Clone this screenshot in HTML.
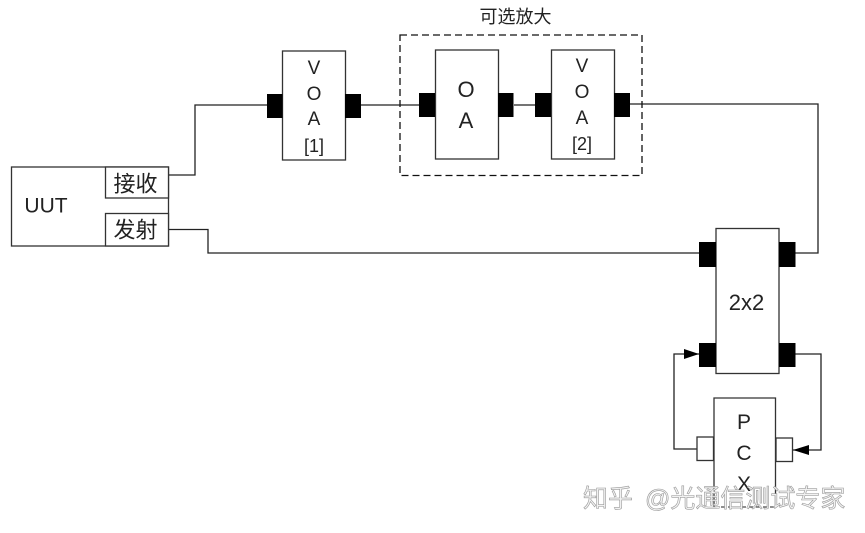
<!DOCTYPE html>
<html><head><meta charset="utf-8"><style>
html,body{margin:0;padding:0;background:#fff}
svg{display:block}
text{font-family:"Liberation Sans","Noto Sans CJK SC",sans-serif;fill:#222;text-anchor:middle}
.b{fill:#fff;stroke:#333;stroke-width:1.3}
.l{fill:none;stroke:#222;stroke-width:1.3}
</style></head><body>
<svg width="865" height="533" viewBox="0 0 865 533" xmlns="http://www.w3.org/2000/svg" style="filter:blur(.3px)">
<path class="l" d="M168 175H195V105H267M361 105H419M514 105H535M630 104H818V253H795M168 229.500H208V253H699M699 354H674V449H697M795 354H821V450H792"/>
<rect x="400" y="35" width="242" height="140.500" fill="none" stroke="#111" stroke-width="1.300" stroke-dasharray="7 4"/>
<rect class="b" x="11.500" y="167" width="157" height="79"/>
<rect class="b" x="105.500" y="167" width="63" height="31"/>
<rect class="b" x="105.500" y="213.500" width="63" height="32.500"/>
<rect class="b" x="282.500" y="51" width="63" height="109"/>
<rect class="b" x="435.500" y="50" width="63" height="109"/>
<rect class="b" x="551.500" y="50" width="63" height="109"/>
<rect class="b" x="716" y="228.500" width="63" height="145"/>
<path d="M714 507V398H775.500V507" class="b"/>
<path d="M714 507H775.500" fill="none" stroke="#222" stroke-dasharray="4 3"/>
<g fill="#000">
<rect x="267" y="94" width="15.500" height="24"/><rect x="345" y="94" width="16" height="24"/>
<rect x="419" y="93" width="16" height="24"/><rect x="498" y="93" width="15.500" height="24"/>
<rect x="535" y="93" width="16" height="24"/><rect x="614" y="93" width="16" height="24"/>
<rect x="699" y="242" width="17" height="25"/><rect x="779" y="242" width="16.500" height="25"/>
<rect x="699" y="343" width="17" height="24"/><rect x="779" y="343" width="16.500" height="24"/>
<path d="M684 349L699 354L684 359Z"/><path d="M809 445L793 450L809 455Z"/>
</g>
<rect class="b" x="697" y="437" width="16.500" height="23.500"/>
<rect class="b" x="776" y="438" width="16.500" height="23.500"/>
<text x="46" y="212.500" font-size="21">UUT</text>
<text x="135.500" y="191.500" font-size="22">接收</text>
<text x="135.500" y="237.500" font-size="22">发射</text>
<text x="515.500" y="23" font-size="18">可选放大</text>
<g font-size="19">
<text x="314" y="74">V</text><text x="314" y="100">O</text><text x="314" y="125">A</text><text x="314" y="152" font-size="18">[1]</text>
<text x="582" y="72">V</text><text x="582" y="98">O</text><text x="582" y="124">A</text><text x="582" y="150" font-size="18">[2]</text>
</g>
<g font-size="22"><text x="466" y="97">O</text><text x="466" y="128">A</text></g>
<text x="746.500" y="310" font-size="22">2x2</text>
<g font-size="21"><text x="744" y="429">P</text><text x="744" y="460">C</text><text x="744" y="491">X</text></g>
<g font-size="25" style="text-anchor:start">
<text x="583" y="507" style="text-anchor:start;fill:#f2f2f2;stroke:#999;stroke-width:.6">知乎</text>
<text x="645" y="507" style="text-anchor:start;fill:#f2f2f2;stroke:#999;stroke-width:.6">@光通信测试专家</text>
</g>
</svg>
</body></html>
